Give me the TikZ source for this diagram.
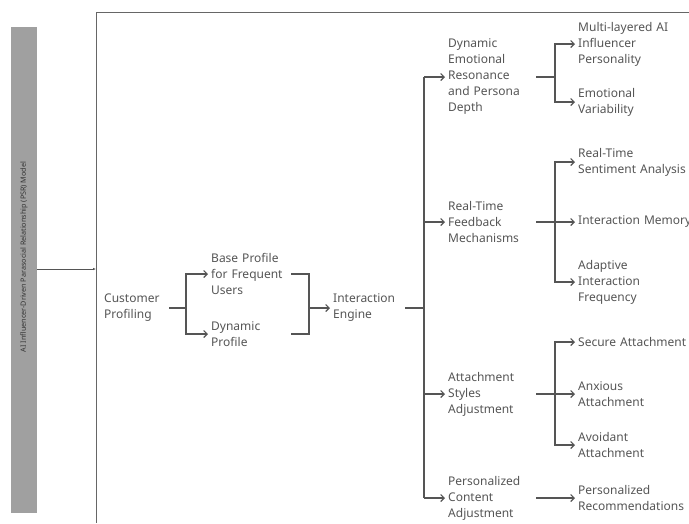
\documentclass[tikz,border=0pt]{standalone}
\usepackage{fontspec}
\setmainfont{Noto Sans}
\usetikzlibrary{arrows.meta}
\definecolor{txt}{HTML}{555555}
\definecolor{ln}{HTML}{555555}
\definecolor{bar}{HTML}{A0A0A0}
\begin{document}
\begin{tikzpicture}[x=1pt,y=-1pt,
  lbl/.style={anchor=west,inner sep=0pt,align=left,text=txt,font=\fontsize{12}{16}\selectfont},
  conn/.style={draw=ln,line width=1.2pt},
  arr/.style={conn,-{Straight Barb[length=3.5pt,width=7pt,line width=1.1pt]}}]
\useasboundingbox (0,0) rectangle (689,523);
% frame
\draw[line width=0.9pt,draw=ln!90] (689,12) -- (96,12) -- (96,523);
% side bar
\node[fill=bar,minimum width=26pt,minimum height=486pt,inner sep=0pt] (bar) at (24,270) {};
\node[rotate=90,text=black!80,font=\fontsize{7.2}{8}\selectfont,inner sep=0pt] (title) at (24,257) {AI Influencer-Driven Parasocial Relationship (PSR) Model};
\coordinate (fr) at (96,269);
\draw[line width=0.7pt,draw=ln,-{Latex[length=3pt,width=2.5pt]}] (bar.east |- fr) -- (fr);
% level 1
\node[lbl,text width=65pt] (cp) at (104,308) {Customer\\Profiling};
\node[lbl,text width=80pt] (bp) at (211,274) {Base Profile\\for Frequent\\Users};
\node[lbl,text width=80pt] (dp) at (211,334) {Dynamic\\Profile};
\node[lbl,text width=72pt] (ie) at (333,308) {Interaction\\Engine};
\coordinate (j1) at (186,308);
\draw[conn] (cp.east) -- (j1);
\draw[arr] (j1) |- ([xshift=-3pt]bp.west);
\draw[arr] (j1) |- ([xshift=-3pt]dp.west);
\coordinate (j2) at (309,308);
\draw[conn] (bp.east) -| (j2);
\draw[conn] (dp.east) -| (j2);
\draw[arr] (j2) -- ([xshift=-3pt]ie.west);
% level 2
\node[lbl,text width=88pt] (de) at (448,77) {Dynamic\\Emotional\\Resonance\\and Persona\\Depth};
\node[lbl,text width=88pt] (rt) at (448,222) {Real-Time\\Feedback\\Mechanisms};
\node[lbl,text width=88pt] (as) at (448,394) {Attachment\\Styles\\Adjustment};
\node[lbl,text width=88pt] (pc) at (448,498) {Personalized\\Content\\Adjustment};
\coordinate (j3) at (424,308);
\draw[conn] (ie.east) -- (j3);
\draw[conn] (j3 |- de.west) -- (j3 |- pc.west);
\draw[arr] (j3 |- de.west) -- ([xshift=-3pt]de.west);
\draw[arr] (j3 |- rt.west) -- ([xshift=-3pt]rt.west);
\draw[arr] (j3 |- as.west) -- ([xshift=-3pt]as.west);
\draw[arr] (j3 |- pc.west) -- ([xshift=-3pt]pc.west);
% leaves
\node[lbl,text width=120pt] (ml) at (578,44) {Multi-layered AI\\Influencer\\Personality};
\node[lbl,text width=120pt] (ev) at (578,102) {Emotional\\Variability};
\node[lbl,text width=120pt] (rs) at (578,162) {Real-Time\\Sentiment Analysis};
\node[lbl,text width=120pt] (im) at (578,222) {Interaction Memory};
\node[lbl,text width=120pt] (ai) at (578,282) {Adaptive\\Interaction\\Frequency};
\node[lbl,text width=120pt] (sa) at (578,342) {Secure Attachment};
\node[lbl,text width=120pt] (aa) at (578,394) {Anxious\\Attachment};
\node[lbl,text width=120pt] (va) at (578,445) {Avoidant\\Attachment};
\node[lbl,text width=120pt] (pr) at (578,498) {Personalized\\Recommendations};
% de children
\coordinate (k1) at (555,77);
\draw[conn] (de.east) -- (k1);
\draw[arr] (k1) |- ([xshift=-3pt]ml.west);
\draw[arr] (k1) |- ([xshift=-3pt]ev.west);
% rt children
\coordinate (k2) at (555,222);
\draw[conn] (rt.east) -- (k2);
\draw[arr] (k2) |- ([xshift=-3pt]rs.west);
\draw[arr] (k2) -- ([xshift=-3pt]im.west);
\draw[arr] (k2) |- ([xshift=-3pt]ai.west);
% as children
\coordinate (k3) at (555,394);
\draw[conn] (as.east) -- (k3);
\draw[arr] (k3) |- ([xshift=-3pt]sa.west);
\draw[arr] (k3) -- ([xshift=-3pt]aa.west);
\draw[arr] (k3) |- ([xshift=-3pt]va.west);
% pc child
\draw[arr] (pc.east) -- ([xshift=-3pt]pr.west);
\end{tikzpicture}
\end{document}
